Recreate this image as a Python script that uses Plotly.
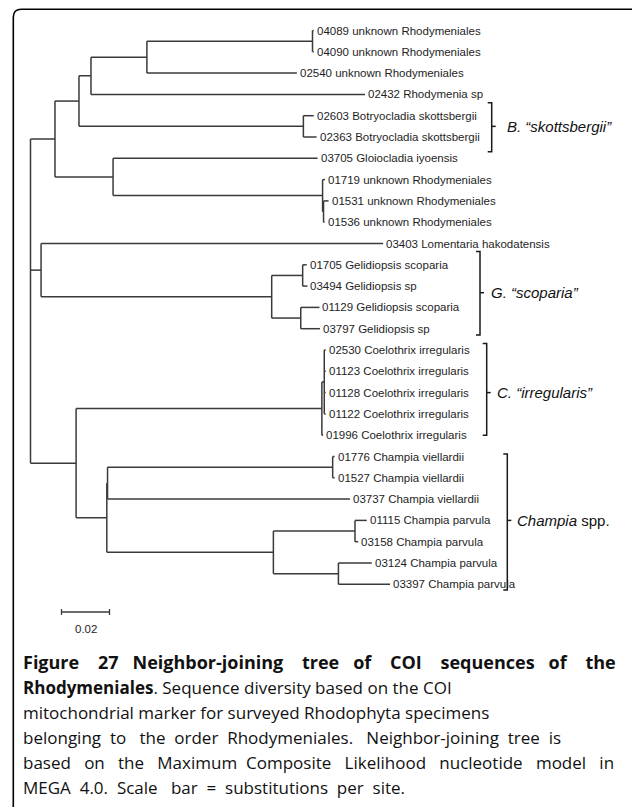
import plotly.graph_objects as go

# ---------------- data ----------------
# tree in preorder: node id, parent id, branch length (substitutions per site)
node_ids = ["root", "A", "B", "C", "D", "E", "04089", "04090", "02540", "02432",
            "Bot", "02603", "02363", "G", "03705", "H", "01719", "H2", "01531", "01536",
            "L", "03403", "Gel", "Gel1", "01705", "03494", "Gel2", "01129", "03797",
            "M", "Coel", "Coel2", "02530", "01123", "01128", "01122", "01996",
            "Champ", "Q", "V", "01776", "01527", "03737", "P", "P1", "01115", "03158",
            "P2", "03124", "03397"]
parent_ids = [None, "root", "A", "B", "C", "D", "E", "E", "D", "C",
              "B", "Bot", "Bot", "A", "G", "G", "H", "H", "H2", "H2",
              "root", "L", "L", "Gel", "Gel1", "Gel1", "Gel", "Gel2", "Gel2",
              "root", "M", "Coel", "Coel2", "Coel2", "Coel2", "Coel2", "Coel",
              "M", "Champ", "Q", "V", "V", "Q", "Champ", "P", "P1", "P1",
              "P", "P2", "P2"]
branch_lengths = [0.0, 0.0102, 0.0100, 0.0050, 0.0233, 0.0690, 0.0005, 0.0005, 0.0625, 0.1142,
                  0.0935, 0.0043, 0.0055, 0.0242, 0.0852, 0.0873, 0.0010, 0.0004, 0.0021, 0.0004,
                  0.0044, 0.1425, 0.0961, 0.0129, 0.0017, 0.0020, 0.0121, 0.0078, 0.0080,
                  0.0190, 0.1024, 0.0010, 0.0006, 0.0006, 0.0006, 0.0006, 0.0005,
                  0.0128, 0.0003, 0.0938, 0.0008, 0.0008, 0.1010, 0.0694, 0.0340, 0.0049, 0.0013,
                  0.0271, 0.0139, 0.0215]

leaf_codes = ["04089", "04090", "02540", "02432", "02603", "02363", "03705", "01719", "01531",
              "01536", "03403", "01705", "03494", "01129", "03797", "02530", "01123", "01128",
              "01122", "01996", "01776", "01527", "03737", "01115", "03158", "03124", "03397"]
leaf_species = ["unknown Rhodymeniales", "unknown Rhodymeniales", "unknown Rhodymeniales",
                "Rhodymenia sp", "Botryocladia skottsbergii", "Botryocladia skottsbergii",
                "Gloiocladia iyoensis", "unknown Rhodymeniales", "unknown Rhodymeniales",
                "unknown Rhodymeniales", "Lomentaria hakodatensis", "Gelidiopsis scoparia",
                "Gelidiopsis sp", "Gelidiopsis scoparia", "Gelidiopsis sp",
                "Coelothrix irregularis", "Coelothrix irregularis", "Coelothrix irregularis",
                "Coelothrix irregularis", "Coelothrix irregularis", "Champia viellardii",
                "Champia viellardii", "Champia viellardii", "Champia parvula", "Champia parvula",
                "Champia parvula", "Champia parvula"]

group_labels = ["<i>B. \u201cskottsbergii\u201d</i>", "<i>G. \u201cscoparia\u201d</i>",
                "<i>C. \u201cirregularis\u201d</i>", "<i>Champia</i> spp."]
group_first = ["02603", "01705", "02530", "01776"]
group_last = ["02363", "03797", "01996", "03397"]

scale_value = 0.02
scale_label = "0.02"

caption_lines = [
    "<b>Figure 27 Neighbor-joining tree of COI sequences of the</b>",
    "<b>Rhodymeniales</b>. Sequence diversity based on the COI",
    "mitochondrial marker for surveyed Rhodophyta specimens",
    "belonging to the order Rhodymeniales. Neighbor-joining tree is",
    "based on the Maximum Composite Likelihood nucleotide model in",
    "MEGA 4.0. Scale bar = substitutions per site.",
]

# ---------------- layout of tree ----------------
children = {n: [] for n in node_ids}
for n, p in zip(node_ids, parent_ids):
    if p is not None:
        children[p].append(n)
xpos = {}
for n, p, bl in zip(node_ids, parent_ids, branch_lengths):
    xpos[n] = 0.0 if p is None else xpos[p] + bl
ypos = {}
leaf_order = [n for n in node_ids if not children[n]]
for i, n in enumerate(leaf_order):
    ypos[n] = i
for n in reversed(node_ids):
    if children[n]:
        ypos[n] = (ypos[children[n][0]] + ypos[children[n][-1]]) / 2.0

lx, ly = [], []
for n, p in zip(node_ids, parent_ids):
    if p is not None:
        lx += [xpos[p], xpos[n], None]
        ly += [ypos[n], ypos[n], None]
    if children[n]:
        lx += [xpos[n], xpos[n], None]
        ly += [ypos[children[n][0]], ypos[children[n][-1]], None]

fig = go.Figure()
fig.add_trace(go.Scatter(x=lx, y=ly, mode="lines",
                         line=dict(color="#3a3a3a", width=1.5),
                         hoverinfo="skip", showlegend=False))

annotations = []
label_font = dict(family="Liberation Sans, Arial, sans-serif", size=11.5, color="#1e1e1e")
for code, sp in zip(leaf_codes, leaf_species):
    annotations.append(dict(x=xpos[code], y=ypos[code], text=f"{code} {sp}",
                            xanchor="left", yanchor="middle", xshift=1,
                            showarrow=False, font=label_font))

# ---------------- brackets ----------------
PX = 1 / 2400.0          # one pixel in x data units
PY = 1 / 21.3            # one pixel in y data units
bracket_x = [461.2 * PX, 449.5 * PX, 456.2 * PX, 476.8 * PX]
bracket_top_off = [-0.61, -0.62, -0.31, -0.12]
bracket_bot_off = [0.69, 0.30, 0.0, 0.27]
label_gap = [15.6 * PX, 10.7 * PX, 10.6 * PX, 9.4 * PX]
tick_off = [0.0, -0.19, 0.0, 0.0]
bx, by = [], []
for i in range(4):
    x0 = bracket_x[i]
    top = ypos[group_first[i]] + bracket_top_off[i]
    bot = ypos[group_last[i]] + bracket_bot_off[i]
    mid = (ypos[group_first[i]] + ypos[group_last[i]]) / 2 + tick_off[i]
    bx += [x0 - 4 * PX, x0, x0, x0 - 4 * PX, None, x0, x0 + 4 * PX, None]
    by += [top, top, bot, bot, None, mid, mid, None]
    annotations.append(dict(x=x0 + label_gap[i], y=mid, text=group_labels[i],
                            xanchor="left", yanchor="middle", xshift=-2, showarrow=False,
                            font=dict(family="Liberation Sans, Arial, sans-serif",
                                      size=15, color="#111111")))
fig.add_trace(go.Scatter(x=bx, y=by, mode="lines", line=dict(color="#1a1a1a", width=1.5),
                         hoverinfo="skip", showlegend=False))

# ---------------- scale bar ----------------
sb_x0 = 31 * PX
sb_y = 27.3
fig.add_trace(go.Scatter(
    x=[sb_x0, sb_x0 + scale_value, None, sb_x0, sb_x0, None, sb_x0 + scale_value, sb_x0 + scale_value],
    y=[sb_y, sb_y, None, sb_y - 3 * PY, sb_y + 3 * PY, None, sb_y - 3 * PY, sb_y + 3 * PY],
    mode="lines", line=dict(color="#3a3a3a", width=1.3), hoverinfo="skip", showlegend=False))
annotations.append(dict(x=sb_x0 + scale_value / 2, y=sb_y + 0.78, text=scale_label,
                        xanchor="center", yanchor="middle", showarrow=False, font=label_font))

# ---------------- caption (justified-looking lines via extra word spacing) ----------------
cap_y_px = [662, 687, 712, 737, 762, 787]
cap_size = [18, 17, 17, 17, 17, 17]
cap_extra = [2.6, 0, 0, 1.3, 1.85, 1.2]   # extra spaces per word gap
NB = "\u00a0"
for t, ypx, ex, fs in zip(caption_lines, cap_y_px, cap_extra, cap_size):
    words = t.split(" ")
    out = words[0]
    acc = 0.0
    for w in words[1:]:
        acc += ex
        k = int(round(acc))
        acc -= k
        out += " " + NB * k + w
    annotations.append(dict(xref="paper", yref="paper", x=21 / 632, y=1 - ypx / 807,
                            text=out, xanchor="left", yanchor="middle", showarrow=False,
                            font=dict(family="Open Sans, sans-serif", size=fs, color="#111111")))

# ---------------- frame ----------------
fx, fy, r = 13.3 / 632, 1 - 9.3 / 807, 8
frame_path = (f"M {fx},-0.01 L {fx},{fy - r / 807} "
              f"Q {fx},{fy} {fx + r / 632},{fy} L 1.01,{fy}")

fig.update_layout(
    width=632, height=807, autosize=False,
    margin=dict(l=0, r=0, t=0, b=0, pad=0),
    paper_bgcolor="white", plot_bgcolor="white",
    xaxis=dict(range=[-30.5 * PX, (632 - 30.5) * PX], visible=False, fixedrange=True),
    yaxis=dict(range=[(807 - 30.5) * PY, -30.5 * PY], visible=False, fixedrange=True),
    annotations=annotations,
    shapes=[dict(type="path", xref="paper", yref="paper", path=frame_path,
                 line=dict(color="black", width=1.6))],
    showlegend=False,
)

fig.write_html("out.html", config={"displayModeBar": False},
               post_script="document.body.style.margin='0';document.body.style.overflow='hidden';")
